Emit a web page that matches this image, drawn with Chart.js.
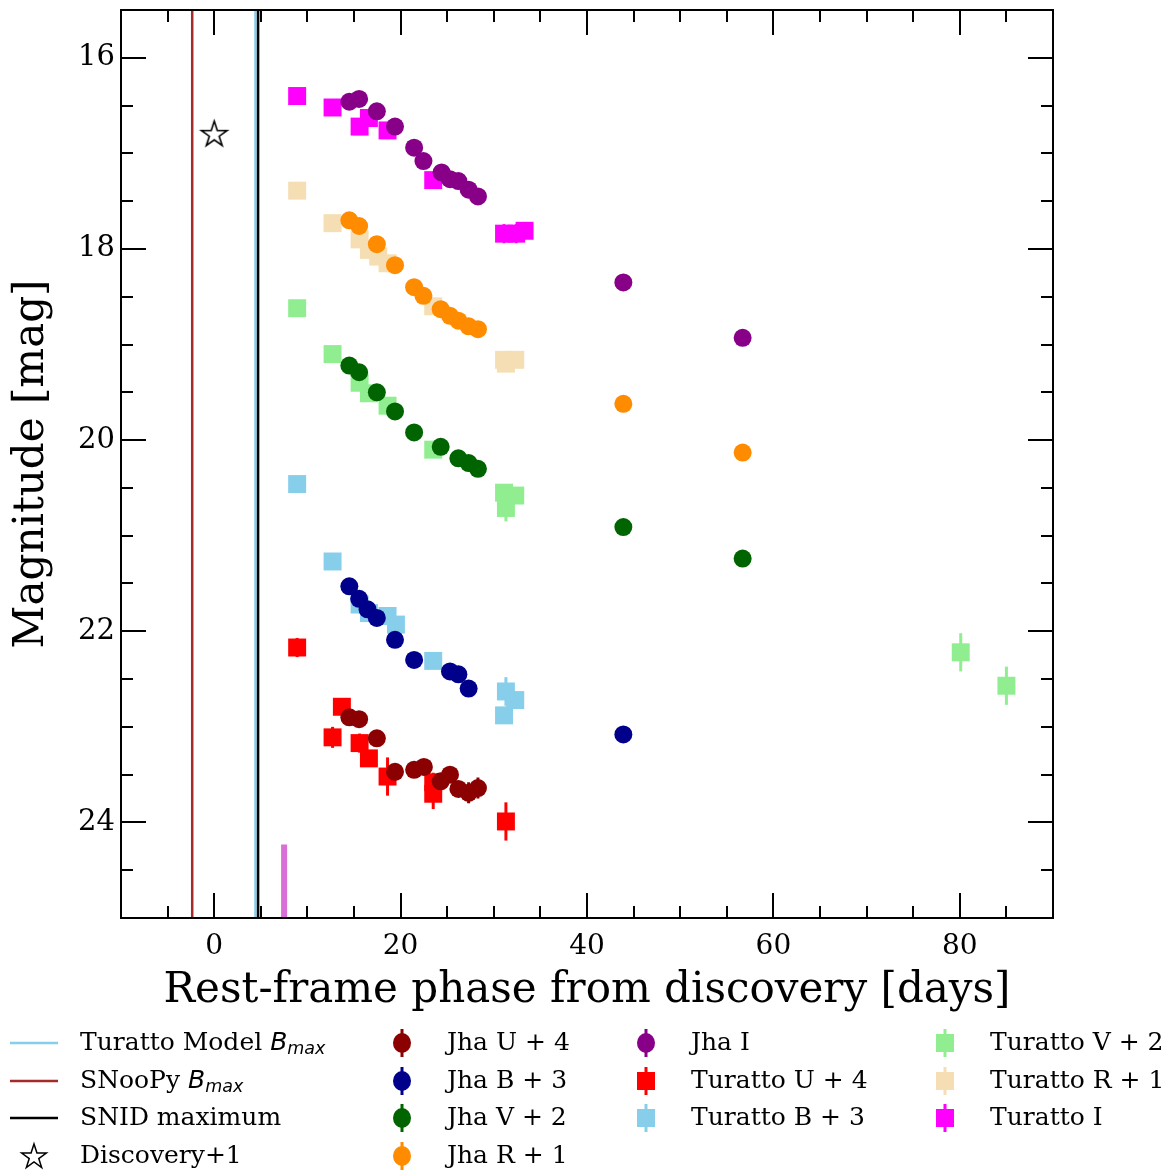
<!DOCTYPE html>
<html><head><meta charset="utf-8">
<script src="https://cdn.jsdelivr.net/npm/chart.js@4.4.0/dist/chart.umd.min.js"></script>
<style>
html,body{margin:0;padding:0;background:#fff;}
#wrap{position:relative;width:1171px;height:1173px;overflow:hidden;}
#c{position:absolute;left:0;top:-5px;}
.lt{position:absolute;font-family:'DejaVu Serif';font-size:25px;line-height:28px;color:#000;white-space:nowrap;}
.mk{position:absolute;}
.bm{font-family:'DejaVu Sans';font-style:italic;}
.bm sub{font-size:0.7em;vertical-align:-0.25em;}
</style></head><body>
<div id="wrap"><canvas id="c" width="1171" height="1173"></canvas><div id="legend"></div></div>
<script>
// ---------- data ----------
const jhaU_x = [14.5, 15.55, 17.45, 19.4, 21.45, 22.5, 24.3, 25.3, 26.2, 27.3, 28.3];
const jhaU_y = [22.90, 22.92, 23.12, 23.47, 23.45, 23.42, 23.57, 23.50, 23.65, 23.69, 23.64];
const jhaU_e = [0.05, 0.05, 0.05, 0.06, 0.05, 0.05, 0.07, 0.06, 0.08, 0.11, 0.11];

const jhaB_x = [14.5, 15.55, 16.45, 17.45, 19.4, 21.45, 25.3, 26.2, 27.3, 43.9];
const jhaB_y = [21.53, 21.66, 21.77, 21.86, 22.09, 22.30, 22.42, 22.45, 22.60, 23.08];
const jhaB_e = [0.03, 0.03, 0.03, 0.03, 0.03, 0.03, 0.04, 0.04, 0.05, 0.05];

const jhaV_x = [14.5, 15.55, 17.45, 19.4, 21.45, 24.3, 26.2, 27.3, 28.3, 43.9, 56.7];
const jhaV_y = [19.22, 19.29, 19.50, 19.70, 19.92, 20.07, 20.19, 20.24, 20.30, 20.91, 21.24];
const jhaV_e = [0.02, 0.02, 0.02, 0.02, 0.02, 0.03, 0.03, 0.03, 0.03, 0.04, 0.05];

const jhaR_x = [14.5, 15.55, 17.45, 19.4, 21.45, 22.45, 24.3, 25.3, 26.2, 27.3, 28.3, 43.9, 56.7];
const jhaR_y = [17.70, 17.76, 17.95, 18.17, 18.40, 18.49, 18.63, 18.70, 18.75, 18.81, 18.84, 19.62, 20.13];
const jhaR_e = [0.02, 0.02, 0.02, 0.02, 0.02, 0.02, 0.02, 0.02, 0.03, 0.03, 0.03, 0.04, 0.05];

const jhaI_x = [14.5, 15.55, 17.45, 19.4, 21.45, 22.45, 24.4, 25.3, 26.2, 27.3, 28.3, 43.9, 56.7];
const jhaI_y = [16.46, 16.43, 16.56, 16.72, 16.94, 17.08, 17.20, 17.27, 17.29, 17.38, 17.45, 18.35, 18.93];
const jhaI_e = [0.02, 0.02, 0.02, 0.02, 0.02, 0.02, 0.02, 0.02, 0.03, 0.03, 0.03, 0.04, 0.05];

const turU_x = [8.9, 12.7, 13.7, 15.6, 16.6, 18.6, 23.5, 23.5, 31.3];
const turU_y = [22.17, 23.11, 22.79, 23.17, 23.33, 23.52, 23.58, 23.70, 23.99];
const turU_e = [0.10, 0.11, 0.09, 0.10, 0.08, 0.20, 0.10, 0.16, 0.20];

const turB_x = [8.9, 12.7, 15.6, 16.6, 18.6, 19.5, 23.5, 31.1, 31.3, 32.3];
const turB_y = [20.46, 21.27, 21.72, 21.81, 21.84, 21.93, 22.31, 22.88, 22.63, 22.72];
const turB_e = [0.04, 0.06, 0.05, 0.05, 0.08, 0.06, 0.08, 0.07, 0.15, 0.09];

const turV_x = [8.9, 12.7, 15.6, 16.6, 18.6, 23.5, 31.1, 31.3, 32.3, 80.1, 85.0];
const turV_y = [18.62, 19.10, 19.40, 19.51, 19.64, 20.10, 20.55, 20.71, 20.58, 22.22, 22.57];
const turV_e = [0.03, 0.05, 0.05, 0.05, 0.08, 0.06, 0.07, 0.14, 0.08, 0.20, 0.20];

const turR_x = [8.9, 12.7, 15.6, 16.6, 17.6, 18.6, 23.5, 31.1, 31.3, 32.3];
const turR_y = [17.39, 17.73, 17.90, 18.01, 18.08, 18.15, 18.60, 19.16, 19.20, 19.16];
const turR_e = [0.03, 0.04, 0.04, 0.04, 0.04, 0.05, 0.05, 0.06, 0.07, 0.06];

const turI_x = [8.9, 12.7, 15.6, 16.6, 18.6, 23.5, 31.1, 32.4, 33.3];
const turI_y = [16.40, 16.52, 16.72, 16.63, 16.76, 17.28, 17.84, 17.84, 17.81];
const turI_e = [0.03, 0.04, 0.04, 0.04, 0.05, 0.05, 0.10, 0.10, 0.07];

const turattoModelBmax = 4.43;
const snoopyBmax = -2.36;
const snidMaximum = 4.71;
const discoveryX = [0.0];
const discoveryY = [16.79];
const spectrumEpoch = 7.5;
const spectrumMagTop = 24.23;

const xTicksMin = -10, xTicksMax = 90, xStep = 5, xLabelEvery = 20;
const yTicksMin = 15.5, yTicksMax = 25, yStep = 0.5, yLabelEvery = 2;

// ---------- build ----------
const FONT = "'DejaVu Serif'";
function pts(xs, ys){ return xs.map((x,i)=>({x:x, y:ys[i]})); }

function starCanvas(R, lw){
  const s = Math.ceil(2*R + 2*lw + 2);
  const cv = document.createElement('canvas'); cv.width = s; cv.height = s;
  const g = cv.getContext('2d');
  const cx = s/2, cy = s/2 + R*0.1, r = R*0.382;
  g.beginPath();
  for (let k=0;k<10;k++){
    const rad = k%2===0 ? R : r;
    const a = -Math.PI/2 + k*Math.PI/5;
    const px = cx + rad*Math.cos(a), py = cy + rad*Math.sin(a);
    k===0 ? g.moveTo(px,py) : g.lineTo(px,py);
  }
  g.closePath(); g.fillStyle='#fff'; g.fill(); g.lineWidth=lw; g.strokeStyle='#000'; g.lineJoin='miter'; g.stroke();
  return cv;
}

const series = [
  {label:'Jha U + 4', x:jhaU_x, y:jhaU_y, e:jhaU_e, color:'#8b0000', style:'circle'},
  {label:'Jha B + 3', x:jhaB_x, y:jhaB_y, e:jhaB_e, color:'#00008b', style:'circle'},
  {label:'Jha V + 2', x:jhaV_x, y:jhaV_y, e:jhaV_e, color:'#006400', style:'circle'},
  {label:'Jha R + 1', x:jhaR_x, y:jhaR_y, e:jhaR_e, color:'#ff8c00', style:'circle'},
  {label:'Jha I', x:jhaI_x, y:jhaI_y, e:jhaI_e, color:'#880088', style:'circle'},
  {label:'Turatto U + 4', x:turU_x, y:turU_y, e:turU_e, color:'#ff0000', style:'rect'},
  {label:'Turatto B + 3', x:turB_x, y:turB_y, e:turB_e, color:'#87ceeb', style:'rect'},
  {label:'Turatto V + 2', x:turV_x, y:turV_y, e:turV_e, color:'#90ee90', style:'rect'},
  {label:'Turatto R + 1', x:turR_x, y:turR_y, e:turR_e, color:'#f5deb3', style:'rect'},
  {label:'Turatto I', x:turI_x, y:turI_y, e:turI_e, color:'#ff00ff', style:'rect'}
];

const datasets = [];
series.forEach(s => {
  datasets.push({
    label:s.label, data:pts(s.x, s.y), errors:s.e, errColor:s.color,
    pointStyle:s.style, pointRadius: s.style==='circle' ? 9 : 12.7,
    pointHoverRadius: s.style==='circle' ? 9 : 12.7,
    backgroundColor:s.color, borderColor:s.color, borderWidth:0, showLine:false
  });
});
datasets.push({label:'Discovery+1', data:pts(discoveryX, discoveryY), pointStyle:starCanvas(13.5,1.6), pointRadius:14, showLine:false});
function vline(label, x, color, y0, y1, w){
  return {label:label, type:'line', data:[{x:x,y:y0},{x:x,y:y1}], borderColor:color, borderWidth:w,
          pointRadius:0, showLine:true, fill:false, order:5};
}
datasets.push(vline('SNID maximum', snidMaximum, '#000000', yTicksMin, yTicksMax, 2.5));
datasets.push(vline('Turatto Model Bmax', turattoModelBmax, '#87ceeb', yTicksMin, yTicksMax, 2.5));
datasets.push(vline('SNooPy Bmax', snoopyBmax, '#a52a2a', yTicksMin, yTicksMax, 2.5));
datasets.push(vline('spectrum', spectrumEpoch, '#da70d6', spectrumMagTop, yTicksMax, 6));

const errorBars = {
  id:'errorBars',
  beforeDatasetDraw(chart, args){
    const ds = chart.data.datasets[args.index];
    if (!ds.errors) return;
    const xs = chart.scales.x, ys = chart.scales.y, ctx = chart.ctx;
    ctx.save();
    ctx.strokeStyle = ds.errColor; ctx.lineWidth = 3;
    ds.data.forEach((p,i)=>{
      const px = xs.getPixelForValue(p.x);
      ctx.beginPath();
      ctx.moveTo(px, ys.getPixelForValue(p.y - ds.errors[i]));
      ctx.lineTo(px, ys.getPixelForValue(p.y + ds.errors[i]));
      ctx.stroke();
    });
    ctx.restore();
  }
};

const frameTicks = {
  id:'frameTicks',
  afterDatasetsDraw(chart){
    const ctx = chart.ctx, ca = chart.chartArea, xs = chart.scales.x, ys = chart.scales.y;
    ctx.save();
    ctx.strokeStyle = '#000'; ctx.lineWidth = 2; ctx.lineCap = 'butt';
    const MAJ = 25, MIN = 12;
    xs.ticks.forEach(t => {
      const px = Math.round(xs.getPixelForValue(t.value));
      const len = (t.value % xLabelEvery === 0) ? MAJ : MIN;
      ctx.beginPath();
      ctx.moveTo(px, ca.bottom); ctx.lineTo(px, ca.bottom - len);
      ctx.moveTo(px, ca.top); ctx.lineTo(px, ca.top + len);
      ctx.stroke();
    });
    ys.ticks.forEach(t => {
      const py = Math.round(ys.getPixelForValue(t.value));
      const len = (Math.abs(t.value % yLabelEvery) < 1e-9) ? MAJ : MIN;
      ctx.beginPath();
      ctx.moveTo(ca.left, py); ctx.lineTo(ca.left + len, py);
      ctx.moveTo(ca.right, py); ctx.lineTo(ca.right - len, py);
      ctx.stroke();
    });
    ctx.strokeRect(ca.left, ca.top, ca.right - ca.left, ca.bottom - ca.top);
    ctx.restore();
  }
};

new Chart(document.getElementById('c'), {
  type:'scatter',
  data:{datasets:datasets},
  options:{
    responsive:false, animation:false, events:[],
    layout:{padding:{left:0, right:118, top:5, bottom:150}},
    plugins:{legend:{display:false}, tooltip:{enabled:false}},
    scales:{
      x:{type:'linear', min:xTicksMin, max:xTicksMax,
        grid:{display:false, drawTicks:false}, border:{display:false},
        ticks:{stepSize:xStep, autoSkip:false, maxRotation:0, padding:12, color:'#000',
          font:{family:FONT, size:28},
          callback:(v)=> (v % xLabelEvery === 0) ? String(v) : ''},
        title:{display:true, text:'Rest-frame phase from discovery [days]', color:'#000',
          font:{family:FONT, size:42}, padding:{top:0, bottom:2}},
        afterFit:(s)=>{ s.height = 100; s.paddingLeft = 0; s.paddingRight = 0; }
      },
      y:{type:'linear', min:yTicksMin, max:yTicksMax, reverse:true,
        grid:{display:false, drawTicks:false}, border:{display:false},
        ticks:{stepSize:yStep, autoSkip:false, padding:6, color:'#000',
          font:{family:FONT, size:29},
          callback:(v)=> (Math.abs(v % yLabelEvery) < 1e-9) ? String(v) : ''},
        title:{display:true, text:'Magnitude [mag]', color:'#000',
          font:{family:FONT, size:42}, padding:{top:7, bottom:0}},
        afterFit:(s)=>{ s.width = 121; s.paddingTop = 0; s.paddingBottom = 0; }
      }
    }
  },
  plugins:[errorBars, frameTicks]
});

// ---------- legend ----------
const legendRows = [1043, 1081, 1118, 1156];
const legendCols = [{m:34, t:80}, {m:402, t:447}, {m:646, t:691}, {m:945, t:990}];
const legendEntries = [
  {col:0,row:0,kind:'line',color:'#87ceeb',html:'Turatto Model <span class="bm">B<sub>max</sub></span>'},
  {col:0,row:1,kind:'line',color:'#a52a2a',html:'SNooPy <span class="bm">B<sub>max</sub></span>'},
  {col:0,row:2,kind:'line',color:'#000000',html:'SNID maximum'},
  {col:0,row:3,kind:'star',color:'#000',html:'Discovery+1'}
];
series.forEach((s,i)=>{
  const pos = i<4 ? {col:1,row:i} : i<7 ? {col:2,row:i-4} : {col:3,row:i-7};
  legendEntries.push({col:pos.col,row:pos.row,kind:s.style,color:s.color,html:s.label});
});
const L = document.getElementById('legend');
legendEntries.forEach(en=>{
  const cy = legendRows[en.row], c = legendCols[en.col];
  const svg = document.createElementNS('http://www.w3.org/2000/svg','svg');
  const W = 60, H = 34;
  svg.setAttribute('width',W); svg.setAttribute('height',H); svg.setAttribute('class','mk');
  svg.style.left = (c.m - W/2) + 'px'; svg.style.top = (cy - H/2) + 'px';
  let inner = '';
  if (en.kind==='line') inner = `<line x1="6" y1="17" x2="54" y2="17" stroke="${en.color}" stroke-width="2.5"/>`;
  else if (en.kind==='star'){
    let p=[]; for(let k=0;k<10;k++){const r=k%2===0?13:5; const a=-Math.PI/2+k*Math.PI/5; p.push((30+r*Math.cos(a)).toFixed(2)+','+(18+r*Math.sin(a)).toFixed(2));}
    inner = `<polygon points="${p.join(' ')}" fill="#fff" stroke="#000" stroke-width="1.5"/>`;
  }
  else if (en.kind==='circle') inner = `<line x1="30" y1="3" x2="30" y2="31" stroke="${en.color}" stroke-width="3"/><ellipse cx="30" cy="17" rx="9" ry="10" fill="${en.color}"/>`;
  else inner = `<line x1="30" y1="3" x2="30" y2="31" stroke="${en.color}" stroke-width="3"/><rect x="21" y="8" width="18" height="18" fill="${en.color}"/>`;
  svg.innerHTML = inner;
  L.appendChild(svg);
  const d = document.createElement('div');
  d.className = 'lt'; d.style.left = c.t + 'px'; d.style.top = (cy - 15) + 'px';
  d.innerHTML = en.html;
  L.appendChild(d);
});
</script>
</body></html>
